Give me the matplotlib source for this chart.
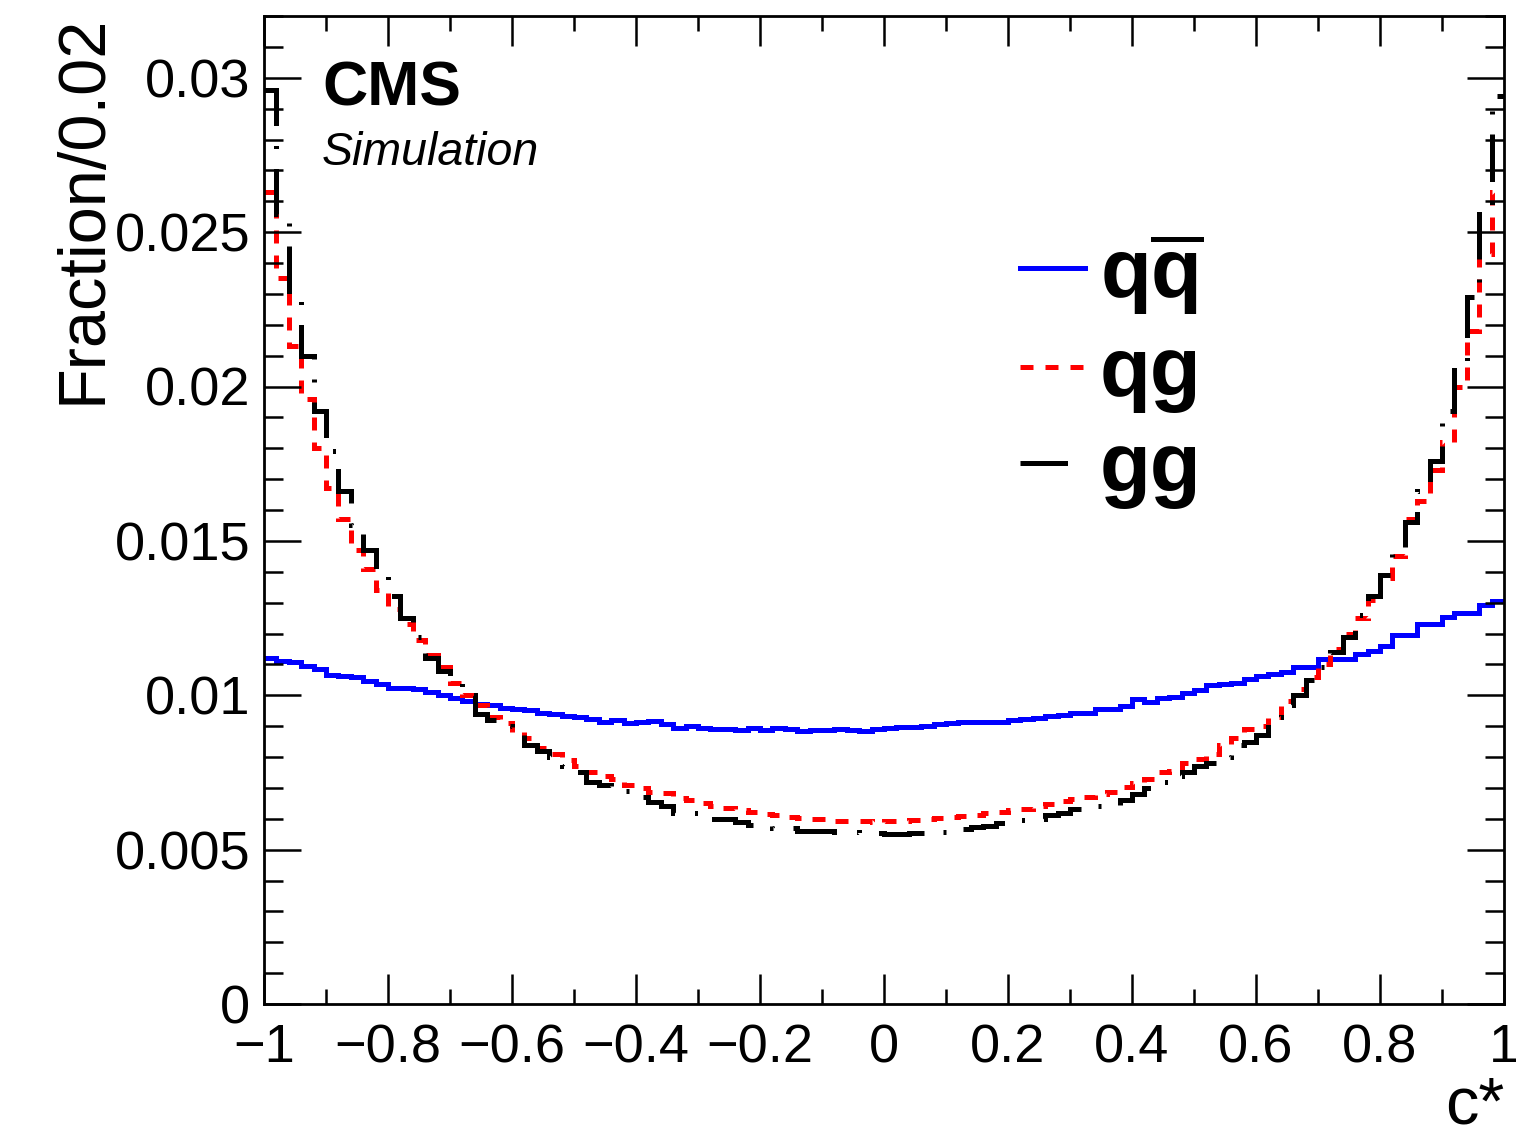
import numpy as np
import matplotlib.pyplot as plt
from matplotlib.lines import Line2D

plt.rcParams['font.family'] = ['Liberation Sans', 'DejaVu Sans']
plt.rcParams['mathtext.fontset'] = 'custom'
plt.rcParams['mathtext.rm'] = 'Liberation Sans'
plt.rcParams['mathtext.bf'] = 'Liberation Sans:bold'

# Distributions en c* (100 bins de 0.02 entre -1 et 1)
edges = np.linspace(-1, 1, 101)

qqbar = [0.01122, 0.01110, 0.01108, 0.01095, 0.01085, 0.01065, 0.01062, 0.01058, 0.01045, 0.01035,
         0.01025, 0.01022, 0.01019, 0.01010, 0.01000, 0.00990, 0.00982, 0.00972, 0.00970, 0.00960,
         0.00957, 0.00951, 0.00944, 0.00938, 0.00934, 0.00928, 0.00922, 0.00912, 0.00920, 0.00909,
         0.00912, 0.00915, 0.00906, 0.00894, 0.00901, 0.00895, 0.00890, 0.00890, 0.00888, 0.00893,
         0.00886, 0.00895, 0.00892, 0.00883, 0.00886, 0.00887, 0.00891, 0.00888, 0.00883, 0.00891,
         0.00893, 0.00897, 0.00898, 0.00899, 0.00906, 0.00909, 0.00912, 0.00914, 0.00912, 0.00914,
         0.00920, 0.00922, 0.00925, 0.00933, 0.00935, 0.00944, 0.00944, 0.00955, 0.00955, 0.00965,
         0.00989, 0.00978, 0.00990, 0.00994, 0.01006, 0.01017, 0.01032, 0.01037, 0.01041, 0.01052,
         0.01063, 0.01068, 0.01074, 0.01090, 0.01090, 0.01117, 0.01117, 0.01117, 0.01134, 0.01144,
         0.01161, 0.01194, 0.01194, 0.01231, 0.01231, 0.01253, 0.01267, 0.01267, 0.01293, 0.01306]

qg = [0.0263, 0.0235, 0.0213, 0.0196, 0.0180, 0.0167, 0.0157, 0.0147, 0.0141, 0.0134,
      0.0128, 0.0123, 0.0118, 0.0113, 0.0109, 0.0104, 0.0100, 0.0097, 0.0093, 0.0091,
      0.0088, 0.0086, 0.0083, 0.0081, 0.0079, 0.0077, 0.0075, 0.0074, 0.0073, 0.0071,
      0.0070, 0.00688, 0.00682, 0.00667, 0.0066, 0.00652, 0.0064, 0.00634, 0.00627, 0.00622,
      0.00615, 0.00612, 0.00606, 0.00602, 0.0060, 0.00598, 0.00593, 0.00592, 0.00592, 0.00591,
      0.00593, 0.00593, 0.00596, 0.00598, 0.00603, 0.00605, 0.0061, 0.00612, 0.0062, 0.00622,
      0.00627, 0.00632, 0.0064, 0.00648, 0.00656, 0.00665, 0.00672, 0.0068, 0.00688, 0.00703,
      0.00715, 0.0073, 0.0075, 0.00755, 0.0078, 0.00795, 0.0081, 0.0084, 0.0086, 0.0089,
      0.0090, 0.0093, 0.0098, 0.0102, 0.0106, 0.0110, 0.0115, 0.0120, 0.0125, 0.0131,
      0.0138, 0.0145, 0.0157, 0.0163, 0.0173, 0.0182, 0.0200, 0.0218, 0.0243, 0.0263]

gg = [0.0296, 0.0256, 0.0229, 0.0210, 0.0192, 0.0179, 0.0166, 0.0155, 0.0147, 0.0139,
      0.0132, 0.0125, 0.0119, 0.0112, 0.0108, 0.0104, 0.0100, 0.0094, 0.0092, 0.0090,
      0.0087, 0.0084, 0.0082, 0.0080, 0.0077, 0.0075, 0.0072, 0.0071, 0.0070, 0.0069,
      0.0067, 0.00655, 0.0064, 0.0062, 0.0062, 0.0061, 0.0060, 0.0060, 0.0059, 0.0058,
      0.0058, 0.0057, 0.0057, 0.0056, 0.0056, 0.0056, 0.00558, 0.00556, 0.00555, 0.00553,
      0.00552, 0.00552, 0.00553, 0.00555, 0.00558, 0.00562, 0.00567, 0.00572, 0.00578, 0.00585,
      0.0059, 0.00595, 0.0060, 0.00612, 0.0062, 0.0063, 0.0063, 0.0064, 0.0064, 0.0066,
      0.0068, 0.0070, 0.0072, 0.0074, 0.00752, 0.0077, 0.0078, 0.0080, 0.0084, 0.0085,
      0.0087, 0.0093, 0.0097, 0.0100, 0.0105, 0.0109, 0.0114, 0.0119, 0.0126, 0.0132,
      0.0139, 0.0146, 0.0156, 0.0166, 0.0176, 0.0192, 0.0208, 0.0229, 0.0258, 0.0294]

labels = [r'$\mathbf{q\overline{q}}$', 'qg', 'gg']

xticks = [-1, -0.8, -0.6, -0.4, -0.2, 0, 0.2, 0.4, 0.6, 0.8, 1]
xtick_labels = ['\u22121', '\u22120.8', '\u22120.6', '\u22120.4', '\u22120.2', '0',
                '0.2', '0.4', '0.6', '0.8', '1']
yticks = [0, 0.005, 0.01, 0.015, 0.02, 0.025, 0.03]
ytick_labels = ['0', '0.005', '0.01', '0.015', '0.02', '0.025', '0.03']

fig = plt.figure(figsize=(15.16, 11.32), dpi=100)
ax = fig.add_axes([264/1516, 1 - 1004/1132, 1240/1516, 988/1132])

lw = 3.6
dash = (0, (2.6, 2.4))
dashdot = (0, (9.5, 4.0, 0.6, 4.0))

ax.stairs(qqbar, edges, baseline=None, color='#0000ff', lw=lw)
ax.stairs(qg, edges, baseline=None, color='#ff0000', lw=lw, linestyle=dash)
ax.stairs(gg, edges, baseline=None, color='black', lw=lw, linestyle=dashdot)

ax.set_xlim(-1, 1)
ax.set_ylim(0, 0.032)

ax.set_xticks(xticks)
ax.set_xticklabels(xtick_labels)
ax.set_xticks(np.arange(-1, 1.001, 0.1), minor=True)
ax.set_yticks(yticks)
ax.set_yticklabels(ytick_labels)
ax.set_yticks(np.arange(0, 0.0321, 0.001), minor=True)

ax.tick_params(which='both', direction='in', top=True, right=True, width=1.8,
               labelsize=39)
ax.tick_params(axis='x', which='major', length=21.3, pad=14)
ax.tick_params(axis='x', which='minor', length=10.7)
ax.tick_params(axis='y', which='major', length=26.8, pad=10)
ax.tick_params(axis='y', which='minor', length=13.4)
for s in ax.spines.values():
    s.set_linewidth(2.0)

fig.text(101/1516, 1 - 15/1132, 'Fraction/0.02', fontsize=48, rotation=90,
         rotation_mode='anchor', ha='right', va='baseline')
fig.text(1504/1516, 1 - 1124/1132, 'c*', fontsize=48, ha='right', va='baseline')

ax.text(0.0468, (1004 - 105)/988, 'CMS', transform=ax.transAxes, fontsize=45,
        fontweight='bold', va='baseline')
ax.text(0.0468, (1004 - 165)/988, 'Simulation', transform=ax.transAxes,
        fontsize=33.5, style='italic', va='baseline')

handles = [Line2D([], [], color='#0000ff', lw=lw),
           Line2D([], [], color='#ff0000', lw=lw, linestyle=dash),
           Line2D([], [], color='black', lw=lw, linestyle=dashdot)]
ax.legend(handles, labels, loc='upper left',
          bbox_to_anchor=((1020 - 264)/1240, (1004 - 230)/988),
          frameon=False, handlelength=0.78, handletextpad=0.18, labelspacing=0.22,
          borderpad=0, borderaxespad=0,
          prop={'family': 'Liberation Sans', 'weight': 'bold', 'size': 60})

fig.savefig('out.png', dpi=100)
